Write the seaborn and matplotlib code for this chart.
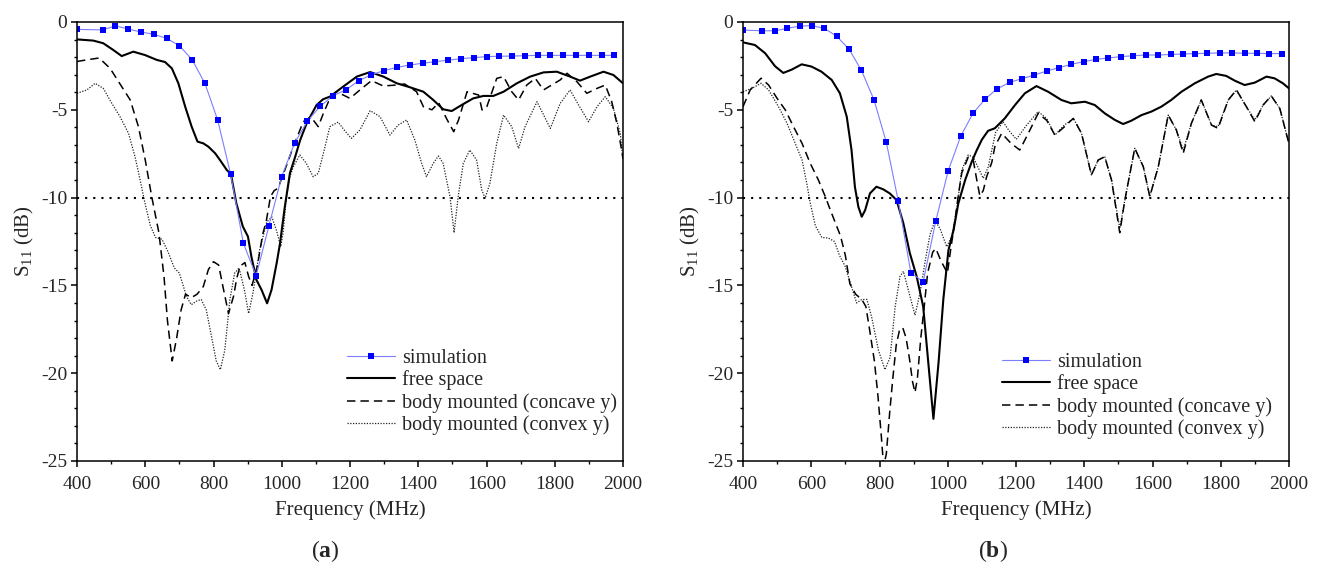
import pandas as pd
import seaborn as sns
import matplotlib.pyplot as plt
from matplotlib.ticker import MultipleLocator

# ---------------- (a) ----------------
sim_a_f = [400, 475, 512.5, 550, 587.5, 625, 662.5, 700, 737.5, 775,
           812.5, 850, 887.5, 925, 962.5, 1000, 1037.5, 1075, 1112.5, 1150,
           1187.5, 1225, 1262.5, 1300, 1337.5, 1375, 1412.5, 1450, 1487.5, 1525,
           1562.5, 1600, 1637.5, 1675, 1712.5, 1750, 1787.5, 1825, 1862.5, 1900,
           1937.5, 1975]
sim_a_db = [-0.42, -0.45, -0.22, -0.4, -0.57, -0.7, -0.93, -1.35, -2.15, -3.5,
            -5.6, -8.65, -12.6, -14.45, -11.6, -8.8, -6.9, -5.65, -4.8, -4.2,
            -3.87, -3.35, -3.0, -2.77, -2.58, -2.45, -2.35, -2.26, -2.17, -2.09,
            -2.03, -1.97, -1.95, -1.94, -1.92, -1.9, -1.9, -1.9, -1.9, -1.9,
            -1.9, -1.9]

free_a_f = [400, 448, 477, 506, 531, 565, 599, 634, 658, 678,
            697, 717, 736, 753, 770, 785, 805, 819, 839, 851,
            867, 886, 901, 911, 926, 941, 957, 970, 985, 995,
            1009, 1024, 1039, 1054, 1073, 1102, 1121, 1141, 1180, 1220,
            1259, 1298, 1337, 1376, 1415, 1444, 1473, 1498, 1527, 1561,
            1591, 1620, 1650, 1689, 1728, 1767, 1806, 1845, 1874, 1904,
            1943, 1972, 2000]
free_a_db = [-0.99, -1.06, -1.21, -1.59, -1.94, -1.69, -1.88, -2.16, -2.28, -2.64,
             -3.49, -4.82, -5.96, -6.81, -6.91, -7.1, -7.48, -7.86, -8.43, -8.66,
             -10.33, -11.65, -12.22, -13.36, -14.69, -15.26, -16.02, -15.26, -13.74, -12.6,
             -10.52, -8.6, -7.7, -6.72, -5.77, -4.73, -4.4, -4.25, -3.68, -3.11,
             -2.85, -3.11, -3.49, -3.72, -3.97, -4.44, -4.97, -5.07, -4.73, -4.35,
             -4.21, -4.21, -3.97, -3.49, -3.11, -2.87, -2.83, -3.11, -3.34, -3.11,
             -2.83, -3.02, -3.49]

cave_a_f = [400, 430, 465, 497, 531, 556, 580, 600, 619, 640,
            655, 665, 679, 692, 705, 718, 735, 752, 770, 785,
            800, 815, 829, 844, 859, 868, 878, 892, 903, 913,
            929, 944, 955, 967, 978, 989, 1009, 1034, 1063, 1085,
            1107, 1122, 1140, 1161, 1200, 1229, 1263, 1297, 1330, 1360,
            1395, 1415, 1440, 1460, 1485, 1504, 1518, 1543, 1577, 1587,
            1601, 1630, 1650, 1674, 1694, 1718, 1743, 1767, 1790, 1816,
            1836, 1865, 1894, 1924, 1948, 1967, 1982, 1996, 2000]
cave_a_db = [-2.25, -2.15, -2.05, -2.64, -3.68, -4.44, -5.96, -7.86, -9.95, -12.0,
             -14.5, -17.0, -19.3, -18.0, -16.4, -15.5, -15.7, -15.5, -15.07, -14.1,
             -13.65, -13.84, -15.2, -16.6, -15.6, -14.6, -13.9, -13.7, -14.5, -15.0,
             -13.85, -12.1, -11.3, -9.94, -9.6, -9.47, -8.43, -7.1, -5.68, -5.4,
             -5.96, -5.2, -4.4, -3.97, -4.35, -3.87, -3.34, -3.64, -3.6, -3.53,
             -3.97, -4.82, -5.0, -4.6, -5.58, -6.25, -5.58, -3.97, -4.16, -5.01,
             -4.82, -3.21, -3.11, -3.97, -4.44, -3.59, -3.21, -3.87, -3.6, -3.3,
             -2.92, -3.4, -4.06, -3.78, -3.59, -4.54, -5.77, -7.29, -7.8]

vex_a_f = [400, 429, 453, 477, 502, 526, 551, 570, 585, 599,
           615, 630, 649, 667, 685, 700, 721, 735, 750, 764,
           779, 794, 808, 820, 833, 848, 862, 875, 891, 903,
           916, 935, 956, 971, 985, 997, 1004, 1013, 1024, 1034,
           1053, 1072, 1092, 1107, 1122, 1141, 1165, 1185, 1204, 1229,
           1259, 1288, 1317, 1341, 1366, 1390, 1410, 1424, 1444, 1459,
           1473, 1493, 1505, 1517, 1532, 1551, 1571, 1586, 1596, 1610,
           1630, 1650, 1674, 1694, 1713, 1748, 1787, 1816, 1845, 1870,
           1899, 1924, 1948, 1972, 1992, 2000]
vex_a_db = [-4.06, -3.87, -3.49, -3.78, -4.63, -5.39, -6.34, -7.67, -9.0, -10.3,
            -11.6, -12.27, -12.37, -13.1, -14.0, -14.3, -15.64, -16.1, -15.9, -15.8,
            -16.4, -17.9, -19.3, -19.8, -18.7, -15.8, -14.3, -14.0, -15.3, -16.6,
            -15.4, -13.0, -11.4, -11.1, -11.9, -12.8, -12.0, -10.1, -8.8, -8.24,
            -7.57, -8.05, -8.81, -8.62, -7.48, -5.96, -5.7, -6.2, -6.63, -6.15,
            -5.05, -5.39, -6.44, -5.87, -5.58, -6.72, -8.05, -8.81, -8.05, -7.63,
            -8.05, -9.94, -12.0, -9.94, -8.05, -7.29, -7.86, -9.56, -10.04, -9.18,
            -6.91, -5.3, -5.96, -7.2, -5.96, -4.54, -6.06, -4.63, -3.87, -4.73,
            -5.68, -4.82, -4.25, -4.92, -6.34, -7.86]

# ---------------- (b) ----------------
sim_b_f = [400, 457, 494, 530, 567, 603, 638, 674, 711, 747,
           784, 820, 855, 892, 928, 965, 1001, 1038, 1074, 1110,
           1143, 1181, 1217, 1254, 1290, 1326, 1362, 1398, 1434, 1470,
           1508, 1544, 1580, 1616, 1653, 1689, 1725, 1761, 1797, 1834,
           1870, 1906, 1942, 1979]
sim_b_db = [-0.46, -0.5, -0.5, -0.36, -0.23, -0.21, -0.36, -0.8, -1.56, -2.75,
            -4.44, -6.85, -10.2, -14.28, -14.79, -11.33, -8.49, -6.5, -5.2, -4.38,
            -3.83, -3.44, -3.23, -3.02, -2.79, -2.6, -2.41, -2.26, -2.13, -2.05,
            -1.97, -1.92, -1.88, -1.88, -1.85, -1.82, -1.8, -1.78, -1.76, -1.76,
            -1.78, -1.78, -1.8, -1.8]

free_b_f = [400, 435, 465, 494, 518, 543, 572, 601, 630, 660,
            684, 704, 718, 728, 738, 748, 758, 772, 791, 811,
            830, 850, 870, 889, 909, 928, 943, 958, 973, 987,
            1002, 1017, 1031, 1051, 1070, 1085, 1100, 1118, 1138, 1167,
            1197, 1226, 1260, 1294, 1333, 1362, 1402, 1431, 1460, 1490,
            1514, 1538, 1568, 1597, 1626, 1655, 1685, 1724, 1763, 1787,
            1816, 1841, 1870, 1900, 1934, 1958, 1982, 2000]
free_b_db = [-1.16, -1.31, -1.78, -2.52, -2.9, -2.71, -2.41, -2.54, -2.83, -3.3,
             -4.06, -5.39, -7.29, -9.4, -10.52, -11.09, -10.71, -9.76, -9.38, -9.53,
             -9.76, -10.14, -11.47, -13.17, -14.5, -16.2, -19.4, -22.6, -19.4, -15.8,
             -13.0, -11.85, -10.33, -9.0, -7.97, -7.3, -6.7, -6.2, -6.05, -5.49,
             -4.73, -4.06, -3.65, -3.97, -4.44, -4.63, -4.54, -4.73, -5.2, -5.58,
             -5.81, -5.62, -5.3, -5.1, -4.82, -4.44, -3.97, -3.49, -3.11, -2.96,
             -3.07, -3.34, -3.59, -3.45, -3.11, -3.21, -3.49, -3.78]

cave_b_f = [400, 421, 453, 475, 500, 524, 548, 573, 597, 621,
            641, 656, 672, 686, 700, 713, 730, 748, 760, 770,
            785, 795, 805, 812, 820, 830, 839, 849, 858, 868,
            878, 888, 897, 904, 911, 921, 931, 941, 956, 965,
            980, 999, 1009, 1019, 1030, 1041, 1060, 1075, 1085, 1094,
            1104, 1114, 1129, 1138, 1158, 1185, 1211, 1236, 1265, 1290,
            1314, 1340, 1368, 1392, 1421, 1441, 1460, 1480, 1504, 1519,
            1548, 1573, 1592, 1617, 1646, 1670, 1690, 1714, 1743, 1773,
            1792, 1822, 1846, 1875, 1900, 1924, 1948, 1973, 1997, 2000]
cave_b_db = [-4.82, -3.87, -3.2, -3.59, -4.35, -5.01, -5.96, -6.91, -8.05, -9.0,
             -9.94, -10.71, -11.5, -12.2, -13.3, -14.9, -15.5, -15.8, -16.2, -17.4,
             -19.3, -21.2, -23.5, -25.3, -24.6, -22.2, -20.3, -18.4, -17.6, -17.4,
             -18.0, -19.2, -20.5, -21.1, -20.3, -18.0, -16.2, -14.3, -13.1, -12.9,
             -13.6, -14.3, -12.9, -11.6, -10.0, -8.6, -7.7, -7.9, -8.99, -9.9,
             -9.6, -8.81, -8.0, -7.1, -6.34, -6.9, -7.29, -6.34, -5.2, -5.6,
             -6.44, -6.0, -5.49, -6.34, -8.71, -7.86, -7.67, -9.0, -12.0, -10.14,
             -7.19, -8.24, -9.94, -8.24, -5.3, -6.15, -7.48, -5.77, -4.44, -5.87,
             -6.06, -4.44, -3.87, -4.82, -5.68, -4.73, -4.21, -4.92, -6.72, -6.9]

vex_b_f = [400, 426, 453, 475, 504, 529, 553, 573, 587, 597,
           612, 631, 650, 668, 683, 699, 718, 733, 748, 763,
           777, 797, 816, 831, 846, 860, 870, 885, 904, 919,
           934, 948, 963, 978, 997, 1012, 1026, 1041, 1060, 1075,
           1090, 1104, 1119, 1129, 1140, 1162, 1180, 1201, 1230, 1265,
           1290, 1314, 1340, 1368, 1392, 1421, 1441, 1460, 1480, 1504,
           1519, 1548, 1573, 1592, 1617, 1646, 1670, 1690, 1714, 1743,
           1773, 1792, 1822, 1846, 1875, 1900, 1924, 1948, 1973, 1997]
vex_b_db = [-3.97, -3.78, -3.49, -3.87, -4.82, -5.77, -6.91, -7.86, -9.2, -10.3,
            -11.6, -12.27, -12.3, -12.5, -13.3, -13.9, -15.07, -16.0, -15.8, -15.8,
            -16.8, -18.7, -19.8, -19.1, -16.2, -14.5, -14.2, -15.3, -16.7, -15.4,
            -13.6, -12.1, -11.3, -11.8, -12.8, -12.2, -10.7, -8.43, -7.57, -7.7,
            -8.33, -8.9, -8.24, -7.3, -6.3, -5.68, -6.2, -6.68, -5.9, -5.1,
            -5.5, -6.44, -5.9, -5.49, -6.34, -8.71, -7.86, -7.67, -9.0, -11.75,
            -10.14, -7.19, -8.24, -9.94, -8.24, -5.3, -6.15, -7.29, -5.77, -4.44,
            -5.87, -5.96, -4.44, -3.87, -4.82, -5.58, -4.73, -4.21, -4.92, -6.72]

labels = ['simulation', 'free space', 'body mounted (concave y)', 'body mounted (convex y)']

sns.set_style('ticks')
plt.rcParams['font.family'] = ['Liberation Serif', 'DejaVu Serif']
plt.rcParams['mathtext.fontset'] = 'custom'
plt.rcParams['mathtext.rm'] = 'Liberation Serif'
plt.rcParams['mathtext.it'] = 'Liberation Serif:italic'
plt.rcParams['mathtext.bf'] = 'Liberation Serif:bold'
plt.rcParams['axes.unicode_minus'] = False

styles = [
    dict(color='#7d7dff', lw=0.8, marker='s', ms=4.5, mfc='#0000ff', mec='#0000ff', mew=0),
    dict(color='black', lw=1.5, linestyle='-'),
    dict(color='black', lw=1.1, linestyle=(0, (5.5, 3.3))),
    dict(color='#222222', lw=0.9, linestyle=(0, (1, 1.2))),
]

W, H = 1320, 563
fig = plt.figure(figsize=(W / 100, H / 100), dpi=100)
ax_a = fig.add_axes([77 / W, 1 - 461 / H, 546 / W, 439 / H])
ax_b = fig.add_axes([743 / W, 1 - 461 / H, 546 / W, 439 / H])

panels = [
    (ax_a, [(sim_a_f, sim_a_db), (free_a_f, free_a_db), (cave_a_f, cave_a_db), (vex_a_f, vex_a_db)],
     (0.4945, 0.255), 325, 'a'),
    (ax_b, [(sim_b_f, sim_b_db), (free_b_f, free_b_db), (cave_b_f, cave_b_db), (vex_b_f, vex_b_db)],
     (0.474, 0.246), 993, 'b'),
]

for ax, series, leg_pos, cap_x, cap in panels:
    ax.axhline(-10, color='black', lw=1.5, linestyle=(0, (1, 2.9)), zorder=1)
    # body curves underneath, free space and simulation on top
    for i in [3, 2, 1, 0]:
        f, v = series[i]
        df = pd.DataFrame({'f': f, 'db': v})
        sns.lineplot(data=df, x='f', y='db', ax=ax, sort=False, estimator=None,
                     label=labels[i], **styles[i])
    ax.set_xlim(400, 2000)
    ax.set_ylim(-25, 0)
    ax.xaxis.set_major_locator(MultipleLocator(200))
    ax.xaxis.set_minor_locator(MultipleLocator(100))
    ax.yaxis.set_major_locator(MultipleLocator(5))
    ax.yaxis.set_minor_locator(MultipleLocator(1))
    ax.tick_params(which='major', direction='out', length=4, width=1.1, labelsize=14, color='black')
    ax.tick_params(which='minor', direction='out', length=2.3, width=1.0, color='black')
    ax.tick_params(axis='x', pad=7)
    ax.tick_params(axis='y', pad=3)
    for sp in ax.spines.values():
        sp.set_linewidth(1.1)
        sp.set_color('black')
    ax.set_xlabel('Frequency (MHz)', fontsize=15)
    ax.set_ylabel('S$_{11}$ (dB)', fontsize=15)
    ax.xaxis.set_label_coords(0.5, -0.09)
    ax.yaxis.set_label_coords(-0.075, 0.5)
    handles, labs = ax.get_legend_handles_labels()
    order = [labs.index(l) for l in labels]
    ax.legend([handles[k] for k in order], labels, loc='upper left', bbox_to_anchor=leg_pos,
              frameon=False, fontsize=14.5, handlelength=2.4, handletextpad=0.35,
              labelspacing=0.12, borderpad=0, borderaxespad=0)
    fig.text(cap_x / W, 1 - 551 / H, '($\\mathbf{' + cap + '}$)', ha='center', va='center', fontsize=17)

fig.savefig('out.png', dpi=100)
